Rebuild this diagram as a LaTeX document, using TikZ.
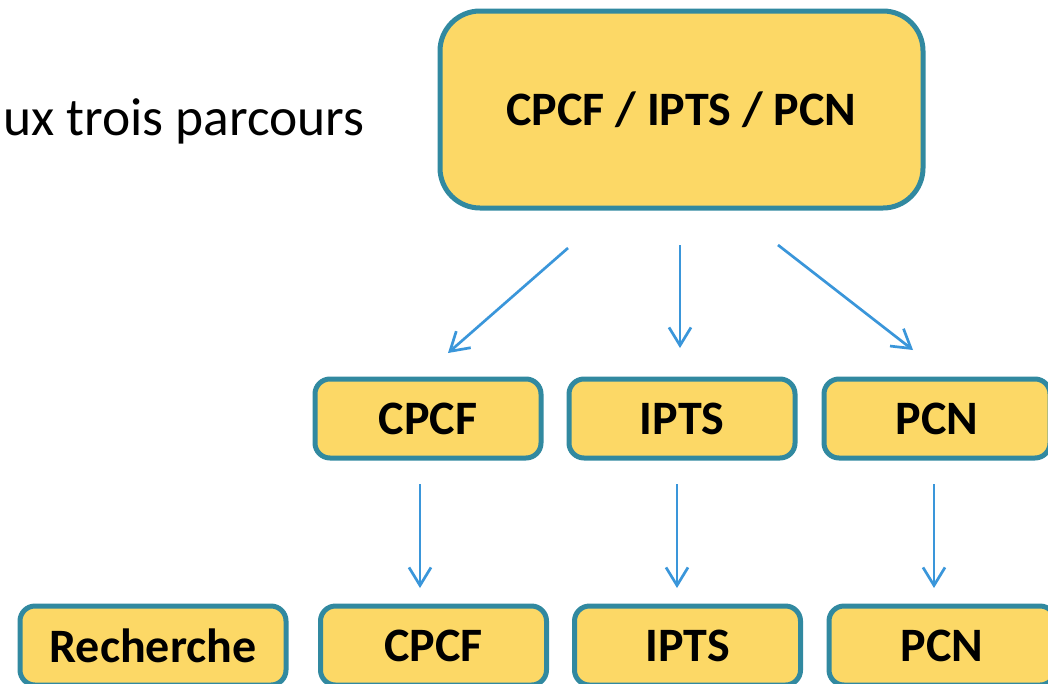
\documentclass[tikz,border=0pt]{standalone}
\usepackage{fontspec}
\setmainfont{Carlito}
\usepackage{tikz}
\usetikzlibrary{arrows.meta}
\definecolor{boxfill}{HTML}{FCD866}
\definecolor{boxline}{HTML}{3189A0}
\definecolor{arrowblue}{HTML}{3A96DA}
\tikzstyle{block} = [rectangle, draw=boxline, fill=boxfill, line width=5pt, text centered, rounded corners=15pt, minimum width=226pt, minimum height=79pt, inner sep=0pt, font=\fontsize{48}{56}\selectfont\bfseries]
\tikzstyle{bigblock} = [block, minimum width=483pt, minimum height=197pt, rounded corners=40pt, font=\fontsize{48}{58}\selectfont\bfseries]
\tikzstyle{line} = [draw=arrowblue, line width=2.7pt, -{Straight Barb[length=18pt, width=22pt]}]

\begin{document}
\begin{tikzpicture}[x=1pt, y=-1pt]
    \useasboundingbox (0,0) rectangle (1048,683);
    \clip (0,0) rectangle (1048,683);
    \node [anchor=base west, inner sep=0pt, font=\fontsize{53.5}{62}\selectfont] (title) at (3,135) {ux trois parcours};
    \node [bigblock] (all) at (681.5,109.5) {CPCF / IPTS / PCN};
    \node [block] (cpcf1) at (428,418.5) {CPCF};
    \node [block] (ipts1) at (682,418.5) {IPTS};
    \node [block] (pcn1) at (937,418.5) {PCN};
    \node [block, minimum width=266pt] (rech) at (153,645.5) {Recherche};
    \node [block] (cpcf2) at (433.5,645.5) {CPCF};
    \node [block] (ipts2) at (687.5,645.5) {IPTS};
    \node [block] (pcn2) at (942,645.5) {PCN};

    \coordinate (s1) at (568,248);
    \coordinate (e1) at (448,353);
    \coordinate (s2) at (680,245);
    \coordinate (e2) at (680,348);
    \coordinate (s3) at (778,245);
    \coordinate (e3) at (913,350);
    \coordinate (s4) at (420,484);
    \coordinate (e4) at (420,588);
    \coordinate (s5) at (677,484);
    \coordinate (e5) at (677,588);
    \coordinate (s6) at (934,484);
    \coordinate (e6) at (934,588);

    \path [line] (s1) -- (e1);
    \path [line] (s2) -- (e2);
    \path [line] (s3) -- (e3);
    \path [line] (s4) -- (e4);
    \path [line] (s5) -- (e5);
    \path [line] (s6) -- (e6);
\end{tikzpicture}
\end{document}
